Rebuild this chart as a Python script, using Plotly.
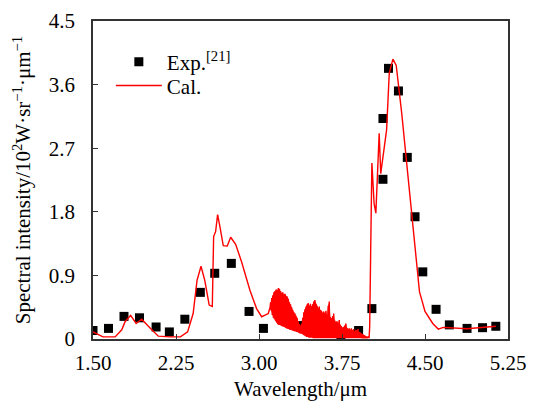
import plotly.graph_objects as go

# Experimental data
exp_x = [1.50, 1.64, 1.78, 1.92, 2.07, 2.19, 2.33, 2.47, 2.60, 2.75, 2.91, 3.04,
         3.36, 3.74, 3.90, 4.02, 4.12, 4.12, 4.17, 4.26, 4.34, 4.41, 4.48,
         4.60, 4.72, 4.88, 5.02, 5.14]
exp_y = [0.12, 0.15, 0.32, 0.30, 0.17, 0.10, 0.28, 0.66, 0.93, 1.07, 0.39, 0.15,
         0.19, 0.02, 0.12, 0.43, 2.26, 3.12, 3.83, 3.51, 2.57, 1.73, 0.95,
         0.42, 0.20, 0.15, 0.16, 0.18]

# Calculated spectrum: smooth part before the noisy band
cal_x_a = [1.50, 1.59, 1.70, 1.76, 1.79, 1.84, 1.89, 1.94, 2.02, 2.09, 2.20, 2.29,
           2.355, 2.405, 2.44, 2.476, 2.51, 2.55, 2.578, 2.59, 2.608, 2.626, 2.647,
           2.677, 2.713, 2.744, 2.789, 2.843, 2.918, 2.978, 3.024, 3.084]
cal_y_a = [0.10, 0.03, 0.03, 0.13, 0.245, 0.335, 0.22, 0.28, 0.15, 0.04, 0.03, 0.03,
           0.10, 0.36, 0.83, 1.03, 0.83, 0.48, 0.46, 1.45, 1.52, 1.76, 1.59,
           1.32, 1.315, 1.44, 1.34, 1.09, 0.69, 0.43, 0.315, 0.36]

# Noisy band 3.10-4.00 um: trough samples and peak samples
band_x_lo = [3.10, 3.11, 3.12, 3.13, 3.14, 3.15, 3.16, 3.17, 3.18, 3.19,
             3.20, 3.21, 3.22, 3.23, 3.24, 3.25, 3.26, 3.27, 3.28, 3.29,
             3.30, 3.31, 3.32, 3.33, 3.34, 3.35, 3.36, 3.37, 3.38, 3.39,
             3.40, 3.41, 3.42, 3.43, 3.44, 3.45, 3.46, 3.47, 3.48, 3.49,
             3.50, 3.51, 3.52, 3.53, 3.54, 3.55, 3.56, 3.57, 3.58, 3.59,
             3.60, 3.61, 3.62, 3.63, 3.64, 3.65, 3.66, 3.67, 3.68, 3.69,
             3.70, 3.71, 3.72, 3.73, 3.74, 3.75, 3.76, 3.77, 3.78, 3.79,
             3.80, 3.81, 3.82, 3.83, 3.84, 3.85, 3.86, 3.87, 3.88, 3.89,
             3.90, 3.91, 3.92, 3.93, 3.94, 3.95, 3.96, 3.97, 3.98, 3.99]
band_y_lo = [0.45, 0.40, 0.34, 0.30, 0.28, 0.25, 0.23, 0.21, 0.20, 0.20,
             0.19, 0.18, 0.18, 0.17, 0.16, 0.15, 0.15, 0.14, 0.13, 0.13,
             0.12, 0.12, 0.11, 0.11, 0.10, 0.10, 0.09, 0.08, 0.08, 0.07,
             0.06, 0.05, 0.04, 0.03, 0.03, 0.02, 0.02, 0.02, 0.02, 0.01,
             0.01, 0.01, 0.01, 0.01, 0.01, 0.01, 0.01, 0.01, 0.01, 0.01,
             0.01, 0.01, 0.01, 0.01, 0.01, 0.01, 0.01, 0.01, 0.01, 0.01,
             0.01, 0.01, 0.01, 0.01, 0.01, 0.01, 0.01, 0.01, 0.01, 0.01,
             0.01, 0.01, 0.01, 0.01, 0.01, 0.01, 0.01, 0.01, 0.01, 0.01,
             0.01, 0.01, 0.01, 0.01, 0.01, 0.01, 0.01, 0.01, 0.02, 0.02]
band_x_hi = [3.105, 3.115, 3.125, 3.135, 3.145, 3.155, 3.165, 3.175, 3.185, 3.195,
             3.205, 3.215, 3.225, 3.235, 3.245, 3.255, 3.265, 3.275, 3.285, 3.295,
             3.305, 3.315, 3.325, 3.335, 3.345, 3.355, 3.365, 3.375, 3.385, 3.395,
             3.405, 3.415, 3.425, 3.435, 3.445, 3.455, 3.465, 3.475, 3.485, 3.495,
             3.505, 3.515, 3.525, 3.535, 3.545, 3.555, 3.565, 3.575, 3.585, 3.595,
             3.605, 3.615, 3.625, 3.635, 3.645, 3.655, 3.665, 3.675, 3.685, 3.695,
             3.705, 3.715, 3.725, 3.735, 3.745, 3.755, 3.765, 3.775, 3.785, 3.795,
             3.805, 3.815, 3.825, 3.835, 3.845, 3.855, 3.865, 3.875, 3.885, 3.895,
             3.905, 3.915, 3.925, 3.935, 3.945, 3.955, 3.965, 3.975, 3.985, 3.995]
band_y_hi = [0.52, 0.58, 0.62, 0.66, 0.68, 0.70, 0.69, 0.72, 0.71, 0.68,
             0.65, 0.66, 0.63, 0.64, 0.61, 0.60, 0.57, 0.52, 0.49, 0.45,
             0.41, 0.38, 0.36, 0.33, 0.30, 0.25, 0.21, 0.19, 0.22, 0.30,
             0.38, 0.42, 0.46, 0.49, 0.51, 0.47, 0.50, 0.46, 0.49, 0.53,
             0.55, 0.50, 0.47, 0.44, 0.46, 0.41, 0.40, 0.37, 0.39, 0.36,
             0.40, 0.33, 0.47, 0.53, 0.31, 0.29, 0.32, 0.36, 0.26, 0.24,
             0.25, 0.22, 0.27, 0.20, 0.18, 0.16, 0.17, 0.19, 0.22, 0.16,
             0.14, 0.15, 0.13, 0.15, 0.12, 0.14, 0.11, 0.13, 0.12, 0.14,
             0.10, 0.09, 0.08, 0.07, 0.06, 0.05, 0.04, 0.03, 0.03, 0.02]

# Calculated spectrum: strong band and tail
cal_x_c = [4.00, 4.02, 4.04, 4.056, 4.086, 4.10, 4.153, 4.177, 4.21, 4.24, 4.29,
           4.35, 4.41, 4.45, 4.50, 4.57, 4.62, 4.665, 4.88, 5.14]
cal_y_c = [0.17, 2.49, 1.92, 1.78, 2.91, 2.34, 2.96, 3.76, 3.96, 3.87, 3.19,
           2.25, 1.31, 0.67, 0.39, 0.22, 0.14, 0.165, 0.146, 0.18]

# assemble the calculated line (interleave troughs and peaks of the band)
band_x, band_y = [], []
for xl, yl, xh, yh in zip(band_x_lo, band_y_lo, band_x_hi, band_y_hi):
    band_x += [xl, xh]
    band_y += [yl, yh]
cal_x = cal_x_a + band_x + cal_x_c
cal_y = cal_y_a + band_y + cal_y_c

# polygon of the densely oscillating region (troughs forward, peaks back)
band_poly_x = band_x_lo + band_x_hi[::-1]
band_poly_y = band_y_lo + band_y_hi[::-1]

x_ticks = [1.50, 2.25, 3.00, 3.75, 4.50, 5.25]
x_tick_text = ["1.50", "2.25", "3.00", "3.75", "4.50", "5.25"]
y_ticks = [0, 0.9, 1.8, 2.7, 3.6, 4.5]
y_tick_text = ["0", "0.9", "1.8", "2.7", "3.6", "4.5"]

FONT = "Liberation Serif, Times New Roman, serif"
FS = 21
RED = "#ff0000"

fig = go.Figure()
fig.add_trace(go.Scatter(
    x=band_poly_x, y=band_poly_y, mode="lines", fill="toself",
    fillcolor=RED, line=dict(color=RED, width=0), showlegend=False, hoverinfo="skip",
))
fig.add_trace(go.Scatter(
    x=exp_x, y=exp_y, mode="markers", name="Exp.<sup>[21]</sup>",
    marker=dict(symbol="square", size=9, color="black"), legend="legend",
))
fig.add_trace(go.Scatter(
    x=cal_x, y=cal_y, mode="lines", name="Cal.",
    line=dict(color=RED, width=1.4), legend="legend2",
))

axis_common = dict(
    showline=True, linecolor="#333333", linewidth=1.5, mirror=True,
    ticks="inside", ticklen=5, tickcolor="#333333", tickwidth=1,
    showgrid=False, zeroline=False, automargin=False,
    tickfont=dict(family=FONT, size=FS, color="black"),
)

fig.update_xaxes(
    range=[1.50, 5.25], tickvals=x_ticks, ticktext=x_tick_text,
    ticklabelstandoff=4,
    **axis_common,
)
fig.update_yaxes(
    range=[0, 4.5], tickvals=y_ticks, ticktext=y_tick_text,
    title=dict(text="Spectral intensity/10<sup>2</sup>W·sr<sup>−1</sup>·μm<sup>−1</sup>",
               font=dict(family=FONT, size=FS, color="black"), standoff=12),
    ticklabelstandoff=12,
    **axis_common,
)

# x-axis title as annotation so it can sit at the very bottom
fig.add_annotation(
    text="Wavelength/μm", xref="paper", yref="paper", x=0.5, y=-63 / 318,
    xanchor="center", yanchor="bottom", showarrow=False, borderpad=0,
    font=dict(family=FONT, size=FS, color="black"),
)

leg_common = dict(xanchor="left", yanchor="middle", bgcolor="rgba(0,0,0,0)",
                  font=dict(family=FONT, size=FS, color="black"), itemwidth=46)

fig.update_layout(
    width=519, height=394,
    margin=dict(l=85, r=19, t=13, b=63),
    paper_bgcolor="white", plot_bgcolor="white",
    font=dict(family=FONT, size=FS, color="black"),
    legend=dict(x=0.043, y=0.871, **leg_common),
    legend2=dict(x=0.043, y=0.796, **leg_common),
    showlegend=True,
)

fig.write_html("out.html")
